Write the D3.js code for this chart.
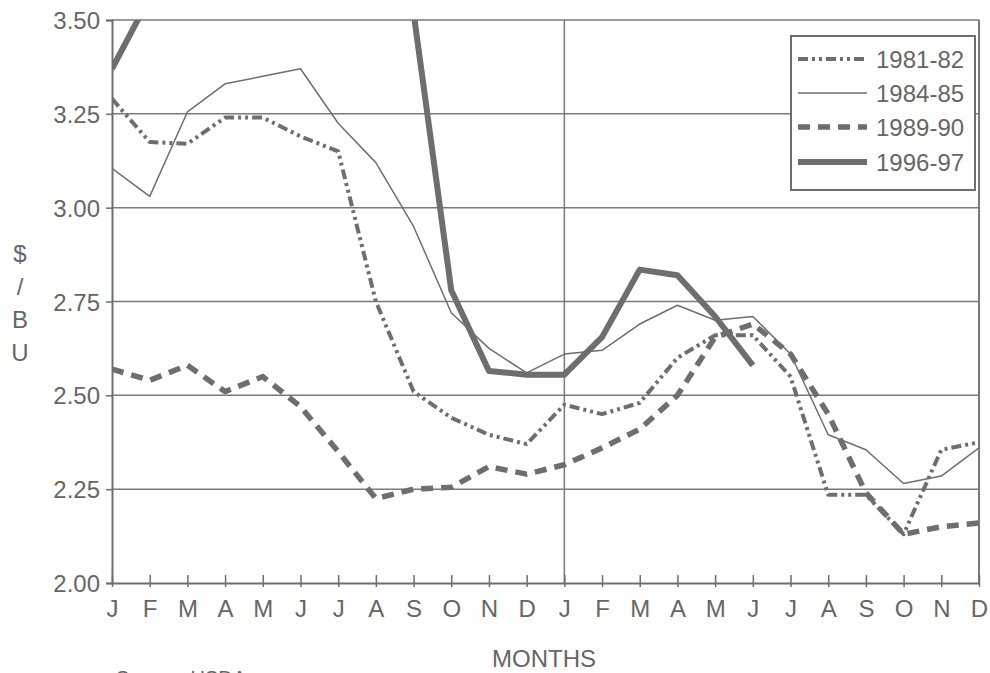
<!DOCTYPE html>
<html lang="en">
<head>
    <meta charset="UTF-8">
    <title>Corn prices by month</title>
    <script src="https://cdn.jsdelivr.net/npm/d3@7"></script>
    <style>
        body { margin: 0; background: #fff; }
        text { font-family: "Liberation Sans", Arial, sans-serif; fill: #666; }
    </style>
</head>
<body>
</body>
<script>
    // months along the bottom (two marketing years)
    var months = ['J', 'F', 'M', 'A', 'M', 'J', 'J', 'A', 'S', 'O', 'N', 'D',
                  'J', 'F', 'M', 'A', 'M', 'J', 'J', 'A', 'S', 'O', 'N', 'D'];
    var yTicks = [2.00, 2.25, 2.50, 2.75, 3.00, 3.25, 3.50];

    // $/bu
    var p8182 = [3.29, 3.175, 3.17, 3.24, 3.24, 3.19, 3.15, 2.75, 2.51, 2.44, 2.395, 2.37,
                 2.475, 2.45, 2.48, 2.60, 2.66, 2.66, 2.55, 2.235, 2.235, 2.13, 2.355, 2.375];
    var p8485 = [3.105, 3.03, 3.255, 3.33, 3.35, 3.37, 3.225, 3.12, 2.95, 2.72, 2.625, 2.56,
                 2.61, 2.62, 2.69, 2.74, 2.70, 2.71, 2.61, 2.395, 2.355, 2.265, 2.285, 2.36];
    var p8990 = [2.57, 2.54, 2.58, 2.51, 2.55, 2.47, 2.35, 2.225, 2.25, 2.255, 2.31, 2.29,
                 2.315, 2.36, 2.41, 2.50, 2.655, 2.69, 2.61, 2.45, 2.24, 2.13, 2.15, 2.16];
    // M..A are off the top of the chart, can't be read -> null
    var p9697 = [3.37, 3.56, null, null, null, null, null, null, 3.52, 2.78, 2.565, 2.555,
                 2.555, 2.655, 2.835, 2.82, 2.71, 2.58];

    var series = [
        {name: '1981-82', values: p8182, width: 4, dash: '10,4,3,4,3,4'},
        {name: '1984-85', values: p8485, width: 1.5, dash: null},
        {name: '1989-90', values: p8990, width: 5.5, dash: '12,8'},
        {name: '1996-97', values: p9697, width: 6, dash: null}
    ];

    var width = 990, height = 673;
    // plot box (don't call these top/left, window.top is taken)
    var pL = 112, pR = 979, pT = 20, pB = 583;
    var ink = '#6e6e6e';

    var svg = d3.select('body')
        .append('svg')
        .attr('width', width)
        .attr('height', height);

    var x = d3.scaleLinear().domain([0, 23]).range([pL, pR]);
    var y = d3.scaleLinear().domain([2, 3.5]).range([pB, pT]);

    // horizontal grid (3.50 line is the top edge)
    svg.append('g').selectAll('line')
        .data(yTicks.slice(1))
        .enter().append('line')
        .attr('x1', pL).attr('x2', pR)
        .attr('y1', d => y(d)).attr('y2', d => y(d))
        .attr('stroke', '#7a7a7a').attr('stroke-width', 1.5);

    // vertical line at the second January, and the right edge
    svg.append('g').selectAll('line')
        .data([12, 23])
        .enter().append('line')
        .attr('x1', d => x(d)).attr('x2', d => x(d))
        .attr('y1', pT).attr('y2', pB)
        .attr('stroke', '#7a7a7a').attr('stroke-width', d => d === 23 ? 2 : 1.5);

    // y axis
    var yAxis = svg.append('g')
        .attr('transform', 'translate(' + pL + ',0)')
        .call(d3.axisLeft(y).tickValues(yTicks).tickFormat(d3.format('.2f')).tickSize(6).tickPadding(6));
    yAxis.select('.domain').attr('stroke', ink).attr('stroke-width', 2);
    yAxis.selectAll('.tick line').attr('stroke', ink).attr('stroke-width', 1.5);
    yAxis.selectAll('text').attr('font-size', 24).attr('fill', '#666').attr('dy', '0.36em');

    // x axis, ticks cross the line
    var xAxis = svg.append('g')
        .attr('transform', 'translate(0,' + pB + ')')
        .call(d3.axisBottom(x).tickValues(d3.range(24)).tickFormat(i => months[i]).tickSize(0).tickPadding(17));
    xAxis.select('.domain').attr('stroke', ink).attr('stroke-width', 2);
    xAxis.selectAll('.tick').append('line')
        .attr('y1', -8).attr('y2', 4)
        .attr('stroke', ink).attr('stroke-width', 1.5);
    xAxis.selectAll('text').attr('font-size', 24).attr('fill', '#666');

    // axis titles
    svg.append('text')
        .attr('x', 544).attr('y', 667)
        .attr('text-anchor', 'middle')
        .attr('font-size', 24)
        .text('MONTHS');

    svg.append('g').selectAll('text')
        .data(['$', '/', 'B', 'U'])
        .enter().append('text')
        .attr('x', 20)
        .attr('y', (d, i) => 262 + i * 33)
        .attr('text-anchor', 'middle')
        .attr('font-size', 24)
        .text(d => d);

    // source note, mostly cut off at the bottom of the page
    svg.append('text')
        .attr('x', 116).attr('y', 685)
        .attr('font-size', 20)
        .attr('fill', '#aaa')
        .text('Source: USDA');

    // lines, clipped to the plot box
    svg.append('clipPath').attr('id', 'plot')
        .append('rect')
        .attr('x', pL).attr('y', pT)
        .attr('width', pR - pL).attr('height', pB - pT);

    var line = d3.line()
        .defined(d => d != null)
        .x((d, i) => x(i))
        .y(d => y(d));

    svg.append('g')
        .attr('clip-path', 'url(#plot)')
        .selectAll('path')
        .data(series)
        .enter().append('path')
        .attr('d', d => line(d.values))
        .attr('fill', 'none')
        .attr('stroke', ink)
        .attr('stroke-width', d => d.width)
        .attr('stroke-dasharray', d => d.dash)
        .attr('stroke-linejoin', 'round');

    // legend
    var lg = svg.append('g');
    lg.append('rect')
        .attr('x', 791).attr('y', 36)
        .attr('width', 184).attr('height', 154)
        .attr('fill', '#fff')
        .attr('stroke', ink).attr('stroke-width', 2);

    var rows = lg.selectAll('.row')
        .data(series)
        .enter().append('g')
        .attr('transform', (d, i) => 'translate(0,' + [59, 93, 127, 162][i] + ')');
    rows.append('line')
        .attr('x1', 798).attr('x2', 867)
        .attr('stroke', ink)
        .attr('stroke-width', d => d.width)
        .attr('stroke-dasharray', d => d.dash);
    rows.append('text')
        .attr('x', 876).attr('y', 8.5)
        .attr('font-size', 24)
        .text(d => d.name);
</script>
</html>
